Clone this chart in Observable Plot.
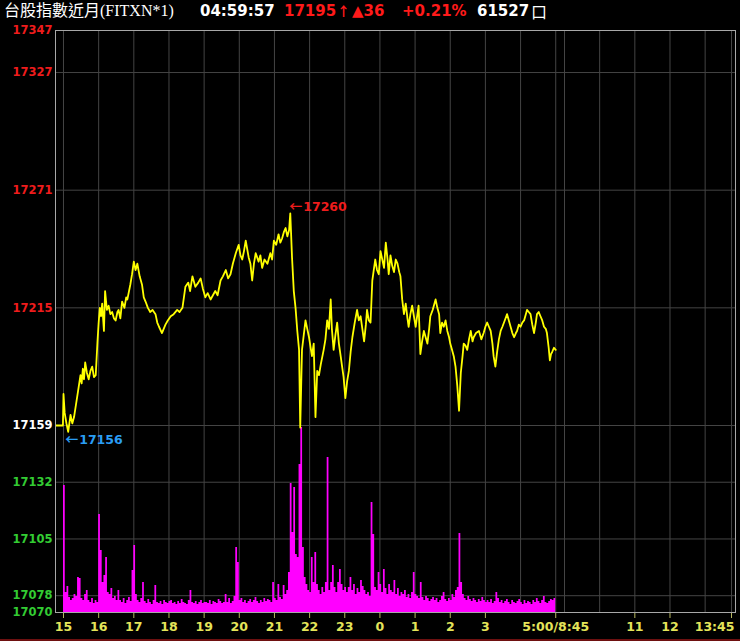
<!DOCTYPE html>
<html><head><meta charset="utf-8">
<script src="https://cdn.jsdelivr.net/npm/d3@7"></script>
<script src="https://cdn.jsdelivr.net/npm/@observablehq/plot@0.6"></script>
<style>
html,body{margin:0;padding:0;background:#000;}
#wrap{position:relative;width:740px;height:641px;background:#000;overflow:hidden;}
#hdr{position:relative;height:22px;}
#hdr span{position:absolute;top:2px;white-space:nowrap;line-height:18px;}
.t{font-family:"Liberation Serif","Noto Sans CJK TC",serif;font-size:16px;color:#fff;}
.b{font-family:"DejaVu Sans",sans-serif;font-weight:bold;font-size:15px;}
#chart svg{display:block;}
#redline{position:absolute;left:0;top:639px;width:740px;height:2px;background:#6e1010;}
</style></head>
<body>
<div id="wrap">
  <div id="hdr">
    <span class="b" style="left:4px;font-family:'Liberation Serif','Noto Sans CJK TC',serif;font-weight:normal;font-size:16px;color:#fff">台股指數近月(FITXN*1)</span>
    <span class="b" style="left:200px;color:#fff">04:59:57</span>
    <span class="b" style="left:284px;color:#ff1a1a">17195</span>
    <span class="b" style="left:337px;color:#ff1a1a;font-family:'Noto Sans CJK TC';font-size:13px">↑</span>
    <span class="b" style="left:352px;color:#ff1a1a">▲36</span>
    <span class="b" style="left:402px;color:#ff1a1a">+0.21%</span>
    <span class="b" style="left:477px;color:#fff">61527</span>
    <span class="b" style="left:531px;font-family:'Noto Sans CJK TC';font-weight:normal;font-size:16px;color:#fff">口</span>
  </div>
  <div id="chart"></div>
  <div id="redline"></div>
</div>
<script>
// minutes since 15:00 (night session 15:00-05:00 = 0..840, day session 8:45-13:45 = 840..1140)
const priceTimes = [-13,-1,0,2,5,8,12,15,18,23,29,31,33,35,37,40,43,46,49,52,55,58,60,62,64,66,69,71,74,77,80,83,86,89,92,94,97,100,104,107,109,114,117,120,123,126,130,134,137,140,144,148,152,157,160,163,168,171,174,178,183,188,194,198,203,208,213,216,220,225,230,234,238,242,246,251,255,259,263,268,272,277,281,285,289,294,299,302,305,308,311,316,319,322,325,328,333,336,339,343,348,353,356,359,363,367,370,373,376,379,382,385,387,390,393,396,399,402,404,407,410,413,416,419,424,427,430,433,436,439,444,447,450,453,456,458,461,464,467,470,473,476,478,481,484,487,490,493,497,501,504,507,510,513,516,518,521,524,527,530,532,535,538,541,544,547,550,553,555,558,561,564,567,570,573,575,578,581,584,587,589,592,595,598,601,604,606,609,612,615,618,621,624,626,630,635,638,641,643,646,649,652,655,658,660,663,666,669,672,675,678,681,683,686,689,692,695,698,700,704,709,713,717,720,723,726,729,732,734,737,740,743,746,749,753,757,760,763,766,769,772,774,777,780,783,786,789,791,794,797,800,803,806,808,811,814,817,820,823,825,828,830,832,834,837,840];
const prices = [17159,17159,17174,17165,17160,17156,17164,17160,17163,17172,17183,17179,17186,17181,17189,17184,17181,17185,17187,17182,17183,17199,17208,17215,17211,17217,17204,17223,17214,17216,17212,17213,17210,17209,17213,17214,17210,17218,17215,17220,17219,17226,17231,17237,17233,17236,17230,17226,17220,17218,17215,17213,17214,17212,17208,17206,17203,17205,17207,17209,17211,17212,17214,17213,17215,17225,17227,17223,17230,17225,17227,17229,17224,17220,17222,17219,17221,17223,17221,17228,17230,17233,17229,17231,17236,17241,17245,17240,17238,17242,17247,17239,17236,17228,17236,17241,17237,17240,17234,17238,17236,17241,17238,17247,17245,17250,17246,17248,17251,17253,17249,17252,17260,17239,17223,17215,17204,17195,17158,17195,17202,17209,17205,17201,17192,17198,17163,17185,17183,17188,17195,17200,17209,17205,17219,17205,17195,17202,17208,17198,17192,17186,17182,17172,17180,17185,17194,17201,17208,17214,17209,17211,17205,17199,17207,17214,17209,17208,17228,17234,17238,17233,17231,17242,17238,17234,17246,17238,17231,17240,17235,17232,17238,17236,17232,17230,17219,17212,17217,17210,17206,17212,17216,17211,17206,17212,17216,17193,17199,17204,17201,17198,17205,17211,17214,17219,17215,17212,17203,17208,17206,17209,17204,17201,17198,17195,17192,17187,17178,17166,17184,17192,17198,17197,17195,17200,17204,17199,17201,17203,17204,17200,17203,17206,17208,17206,17204,17198,17192,17187,17194,17200,17204,17206,17209,17212,17209,17206,17203,17201,17203,17204,17207,17206,17208,17209,17212,17214,17213,17212,17207,17203,17208,17212,17213,17211,17209,17206,17205,17203,17196,17190,17193,17194,17196,17195];

// volume per 3-minute bin from 15:00 (relative heights)
const volumeBins = [127,20,26,15,12,14,18,16,35,34,14,12,18,22,12,10,14,9,12,10,
98,62,30,37,55,20,18,24,14,16,12,
22,12,10,14,9,12,15,11,42,67,18,
12,10,14,30,11,9,13,10,8,12,27,10,9,11,8,12,10,9,11,
12,9,10,8,11,9,13,10,9,8,12,22,10,9,11,8,10,12,9,10,
10,9,12,8,11,10,9,13,11,9,10,18,10,14,9,11,16,65,50,12,
14,10,12,9,11,13,10,12,15,11,9,12,10,14,11,13,12,10,30,14,12,28,15,13,27,18,
22,40,129,80,125,58,55,148,185,65,35,28,22,20,
55,30,60,28,22,18,25,20,30,155,22,30,47,25,20,30,43,28,22,25,
20,25,35,22,28,18,24,20,32,26,22,18,20,16,110,78,
25,22,40,28,20,43,24,18,28,22,20,32,18,24,16,20,18,22,15,18,14,20,40,18,
16,14,30,15,12,16,14,11,13,15,12,14,10,12,16,20,13,11,14,12,18,15,22,25,79,30,18,14,12,16,13,11,14,12,10,13,11,15,12,10,
12,10,13,9,11,20,14,10,12,9,11,13,10,8,12,10,9,11,13,10,8,12,9,11,10,8,12,10,14,11,9,12,16,10,9,11,13,12,14];
const binMinutes = 3;

const yTicks = [17347, 17327, 17271, 17215, 17159, 17132, 17105, 17078, 17070];
const refPrice = 17159;
const xTickMinutes = [0,60,120,180,240,300,360,420,480,540,600,660,720,840,975,1035,1140];
const xTickLabels = ["15","16","17","18","19","20","21","22","23","0","1","2","3","5:00/8:45","11","12","13:45"];
const gridMinutes = [0,60,120,180,240,300,360,420,480,540,600,660,720,780,840,855,915,975,1035,1095,1140];
const highPoint = {m: 387, p: 17260, label: "17260"};
const lowPoint = {m: 8, p: 17156, label: "17156"};

const price = priceTimes.map((m, i) => ({m, p: prices[i]}));
const vol = volumeBins.map((v, i) => ({m: i * binMinutes, v}));
vol.push({m: volumeBins.length * binMinutes, v: 0});
const yMin = 17070, yMax = 17347;
const volToPrice = (yMax - yMin) / 582; // one volume unit = one pixel of height

const lastTick = xTickMinutes[xTickMinutes.length - 1];
const xLabels = xTickMinutes.map((m, i) => ({m, label: xTickLabels[i]}));
const arrowFont = "Noto Sans CJK TC";

const chart = Plot.plot({
  width: 740, height: 619,
  marginLeft: 55, marginRight: 5, marginTop: 8, marginBottom: 29,
  style: {background: "#000", color: "#b8b860", fontFamily: "DejaVu Sans", fontSize: "12.5px", fontWeight: "bold"},
  x: {type: "linear", domain: [-13.65, 1146.8], ticks: xTickMinutes,
      tickFormat: () => "", tickSize: 6, label: null},
  y: {domain: [yMin, yMax], axis: null},
  marks: [
    Plot.ruleY(yTicks, {stroke: "#444"}),
    Plot.ruleX(gridMinutes, {stroke: "#444"}),
    Plot.areaY(vol, {x: "m", y1: yMin, y2: d => yMin + d.v * volToPrice, curve: "step-after", fill: "#ff00ff"}),
    Plot.line(price, {x: "m", y: "p", stroke: "#ffff00", strokeWidth: 1.8}),
    Plot.frame({stroke: "#a8a8a8"}),
    Plot.text(xLabels.filter(d => d.m !== lastTick), {x: "m", frameAnchor: "bottom", text: "label", dy: 18, fill: "#e4e45a", fontSize: 12.5}),
    Plot.text(xLabels.filter(d => d.m === lastTick), {x: "m", frameAnchor: "bottom", text: "label", textAnchor: "end", dx: 3, dy: 18, fill: "#e4e45a", fontSize: 12.5}),
    Plot.text(yTicks.filter(d => d > refPrice), {frameAnchor: "left", y: d => d, text: d => String(d), textAnchor: "end", dx: -3, fill: "#ee1c1c", fontSize: 11.5}),
    Plot.text(yTicks.filter(d => d === refPrice), {frameAnchor: "left", y: d => d, text: d => String(d), textAnchor: "end", dx: -3, fill: "#ffffff", fontSize: 11.5}),
    Plot.text(yTicks.filter(d => d < refPrice), {frameAnchor: "left", y: d => d, text: d => String(d), textAnchor: "end", dx: -3, fill: "#33cc33", fontSize: 11.5}),
    Plot.text([highPoint], {x: "m", y: "p", text: () => "←", fontFamily: arrowFont, textAnchor: "start", dx: -1, dy: -6, fill: "#ee1c1c", fontSize: 13}),
    Plot.text([highPoint], {x: "m", y: "p", text: "label", textAnchor: "start", dx: 13, dy: -6, fill: "#ee1c1c", fontSize: 12.5}),
    Plot.text([lowPoint], {x: "m", y: "p", text: () => "←", fontFamily: arrowFont, textAnchor: "start", dx: -3, dy: 8, fill: "#2a9df4", fontSize: 13}),
    Plot.text([lowPoint], {x: "m", y: "p", text: "label", textAnchor: "start", dx: 11, dy: 8, fill: "#2a9df4", fontSize: 12.5})
  ]
});
document.getElementById("chart").appendChild(chart);
</script>
</body></html>
